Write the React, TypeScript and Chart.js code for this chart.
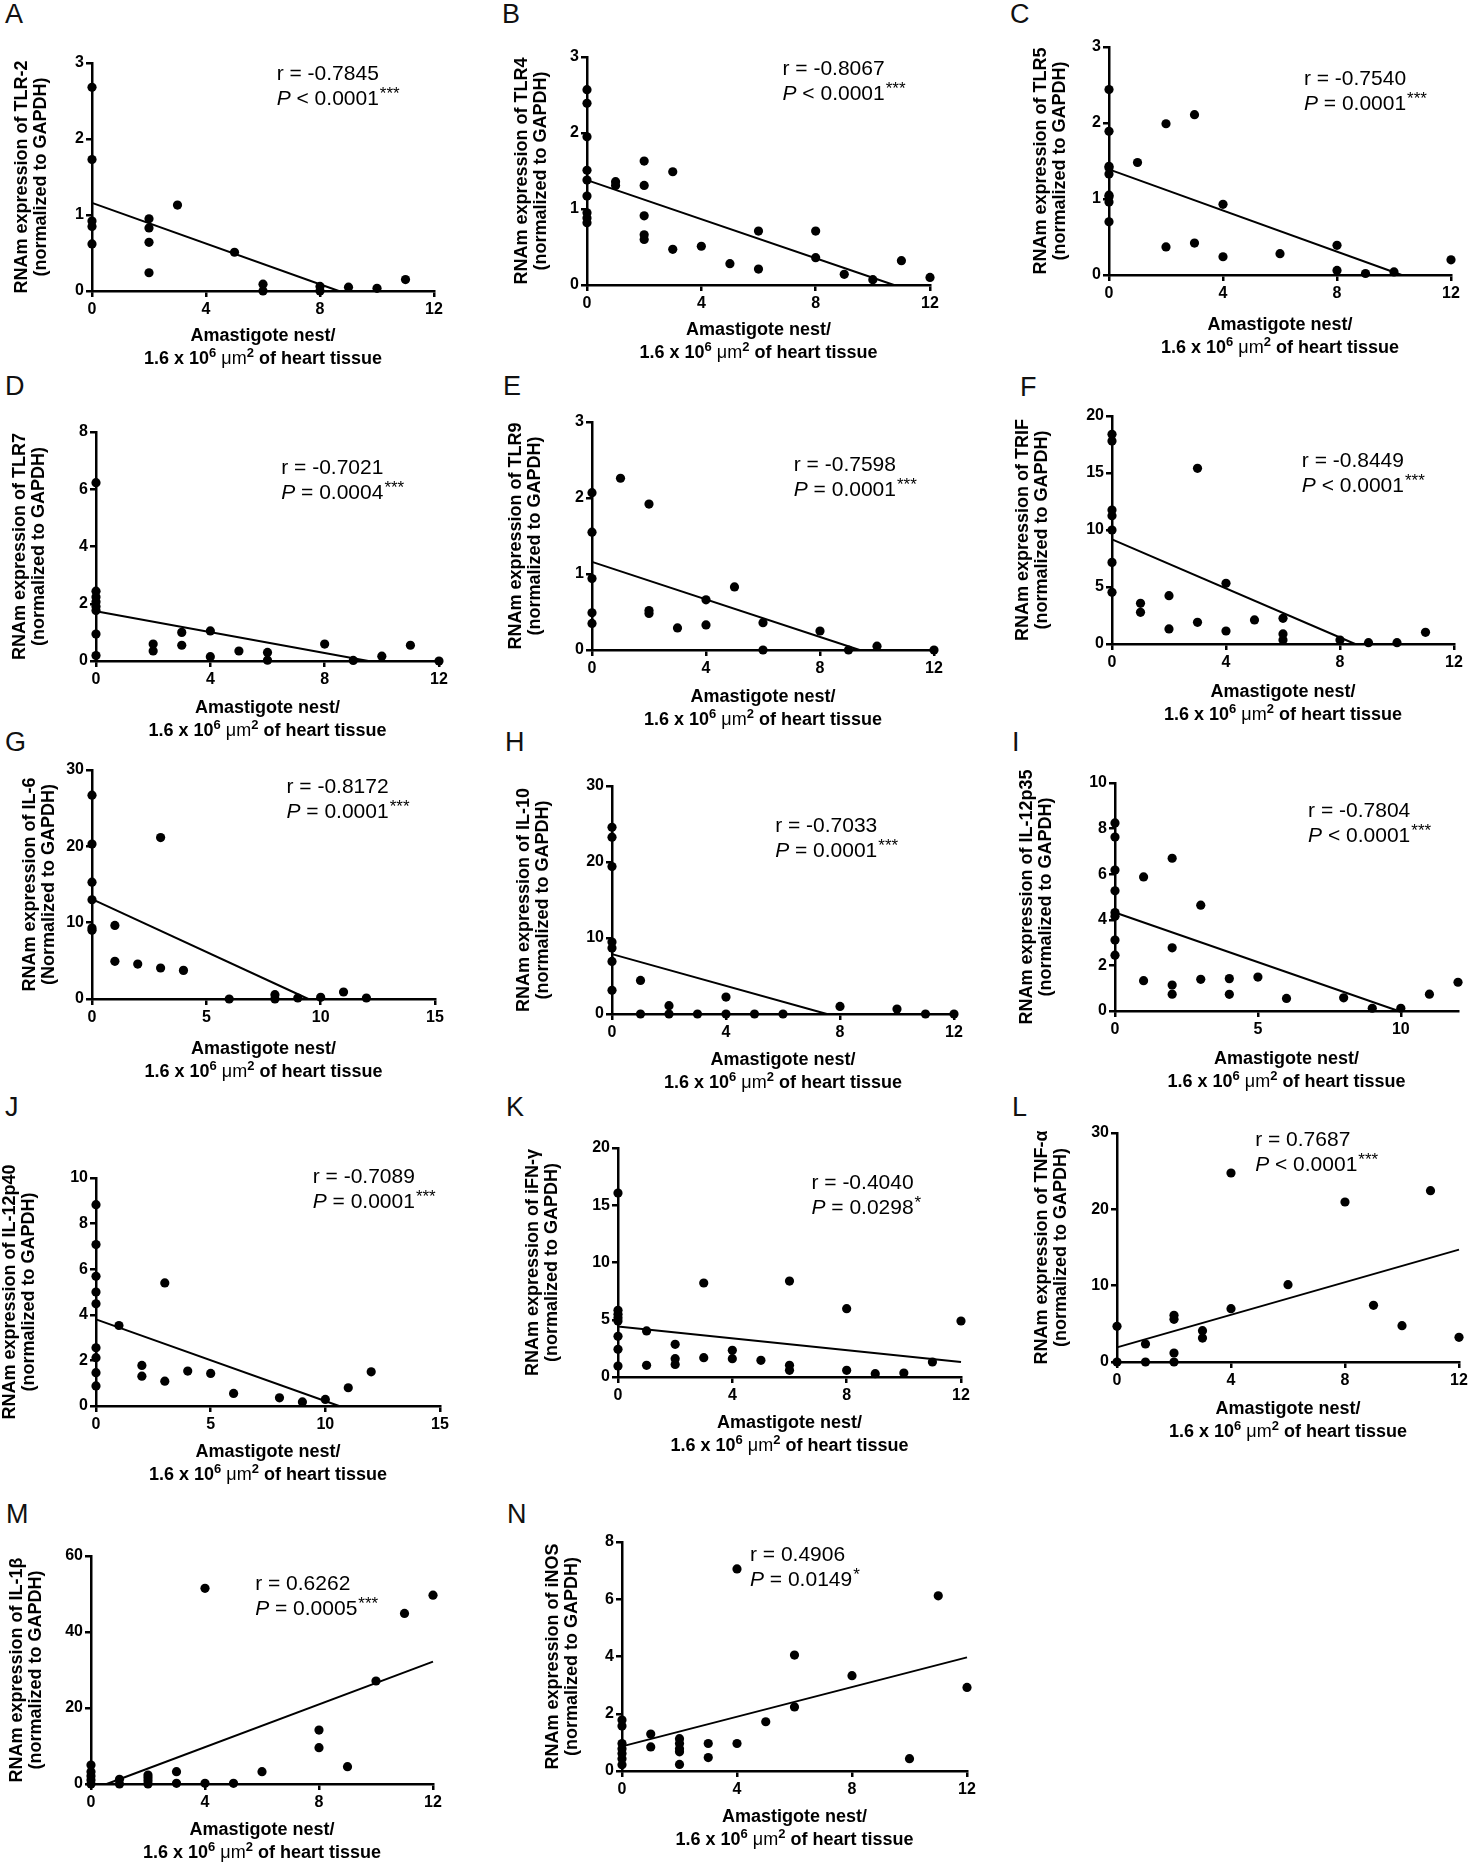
import { useEffect, useRef } from 'react'
import { Chart, registerables } from 'chart.js'

Chart.register(...registerables)

const FONT = '"Liberation Sans", Arial, sans-serif'

// layout of every canvas around its plot area
const WY = 100 // width of the y scale box
const PT = 45 // room above the plot
const PR = 30 // room right of the plot
const HX = 90 // height of the x scale box
const Y_LH = 19 // line height of the y titles

// A - TLR-2
const tlr2X = [0, 0, 0, 0, 0, 2, 2, 2, 2, 3, 5, 6, 6, 8, 8, 9, 10, 11]
const tlr2Y = [2.68, 1.73, 0.92, 0.85, 0.62, 0.95, 0.83, 0.64, 0.24, 1.13, 0.51, 0.09, 0, 0.06, 0, 0.05, 0.035, 0.15]
const tlr2FitX = [0, 8.66]
const tlr2FitY = [1.16, 0]

// B - TLR4
const tlr4X = [0, 0, 0, 0, 0, 0, 0, 0, 0, 1, 1, 2, 2, 2, 2, 2, 3, 3, 4, 5, 6, 6, 8, 8, 9, 10, 11, 12]
const tlr4Y = [2.57, 2.39, 1.95, 1.51, 1.38, 1.17, 0.95, 0.88, 0.82, 1.36, 1.31, 1.63, 1.31, 0.91, 0.66, 0.6, 1.49, 0.47, 0.51, 0.28, 0.71, 0.21, 0.71, 0.36, 0.14, 0.07, 0.32, 0.1]
const tlr4FitX = [0, 10.74]
const tlr4FitY = [1.38, 0]

// C - TLR5
const tlr5X = [0, 0, 0, 0, 0, 0, 0, 0, 0, 1, 2, 2, 3, 3, 4, 4, 6, 8, 8, 9, 10, 12]
const tlr5Y = [2.44, 1.89, 1.43, 1.41, 1.33, 1.05, 1.03, 0.96, 0.7, 1.48, 1.99, 0.37, 2.11, 0.42, 0.93, 0.24, 0.28, 0.39, 0.06, 0.02, 0.04, 0.2]
const tlr5FitX = [0, 10.27]
const tlr5FitY = [1.39, 0]

// D - TLR7
const tlr7X = [0, 0, 0, 0, 0, 0, 0, 0, 2, 2, 3, 3, 4, 4, 5, 6, 6, 8, 9, 10, 11, 12]
const tlr7Y = [6.23, 2.44, 2.24, 2.07, 1.9, 1.76, 0.94, 0.19, 0.59, 0.35, 1.0, 0.55, 1.05, 0.15, 0.35, 0.3, 0.03, 0.59, 0.02, 0.17, 0.55, 0]
const tlr7FitX = [0, 9.53]
const tlr7FitY = [1.74, 0]

// E - TLR9
const tlr9X = [0, 0, 0, 0, 0, 1, 2, 2, 2, 3, 4, 4, 5, 6, 6, 8, 9, 10, 12]
const tlr9Y = [2.07, 1.55, 0.94, 0.49, 0.35, 2.26, 1.92, 0.52, 0.48, 0.29, 0.66, 0.33, 0.83, 0.36, 0, 0.25, 0, 0.05, 0]
const tlr9FitX = [0, 9.39]
const tlr9FitY = [1.16, 0]

// F - TRIF
const trifX = [0, 0, 0, 0, 0, 0, 0, 1, 1, 2, 2, 3, 3, 4, 4, 5, 6, 6, 6, 8, 9, 10, 11]
const trifY = [18.4, 17.8, 11.75, 11.26, 10.0, 7.16, 4.53, 3.57, 2.78, 4.24, 1.32, 15.41, 1.9, 5.32, 1.14, 2.11, 2.25, 0.88, 0.35, 0.35, 0.12, 0.12, 1.02]
const trifFitX = [0, 8.53]
const trifFitY = [9.18, 0]

// G - IL-6
const il6X = [0, 0, 0, 0, 0, 0, 1, 1, 2, 3, 3, 4, 6, 8, 8, 9, 10, 11, 12]
const il6Y = [26.7, 20.3, 15.3, 13.0, 9.3, 9.0, 9.64, 4.93, 4.58, 21.15, 4.06, 3.75, 0, 0.57, 0, 0.13, 0.22, 0.92, 0.13]
const il6FitX = [0, 9.46]
const il6FitY = [13.08, 0]

// H - IL-10
const il10X = [0, 0, 0, 0, 0, 0, 0, 1, 1, 2, 2, 3, 4, 4, 5, 6, 8, 10, 11, 12]
const il10Y = [24.57, 23.26, 19.4, 9.46, 8.67, 6.92, 3.11, 4.42, 0, 1.1, 0, 0, 2.23, 0, 0, 0, 1.0, 0.66, 0, 0]
const il10FitX = [0, 7.54]
const il10FitY = [7.88, 0]

// I - IL-12p35
const il12p35X = [0, 0, 0, 0, 0, 0, 0, 0, 1, 1, 2, 2, 2, 2, 3, 3, 4, 4, 5, 6, 8, 9, 10, 11, 12]
const il12p35Y = [8.25, 7.63, 6.18, 5.27, 4.32, 4.16, 3.11, 2.45, 5.88, 1.33, 6.7, 2.77, 1.14, 0.74, 4.64, 1.39, 1.42, 0.73, 1.49, 0.55, 0.58, 0.12, 0.12, 0.74, 1.26]
const il12p35FitX = [0, 9.92]
const il12p35FitY = [4.32, 0]

// J - IL-12p40
const il12p40X = [0, 0, 0, 0, 0, 0, 0, 0, 0, 1, 2, 2, 3, 3, 4, 5, 6, 8, 9, 10, 11, 12]
const il12p40Y = [8.83, 7.08, 5.69, 5.0, 4.48, 2.55, 2.12, 1.46, 0.88, 3.53, 1.78, 1.31, 5.4, 1.09, 1.53, 1.43, 0.55, 0.36, 0.18, 0.29, 0.8, 1.5]
const il12p40FitX = [0, 10.6]
const il12p40FitY = [3.8, 0]

// K - iFN-gamma
const ifngX = [0, 0, 0, 0, 0, 0, 0, 0, 1, 1, 2, 2, 2, 3, 3, 4, 4, 5, 6, 6, 6, 8, 8, 9, 10, 11, 12]
const ifngY = [16.07, 5.82, 5.47, 5.18, 4.89, 3.55, 2.42, 0.96, 4.02, 1.02, 2.85, 1.6, 1.1, 8.21, 1.69, 2.33, 1.6, 1.46, 8.38, 1.02, 0.58, 5.97, 0.58, 0.29, 0.35, 1.31, 4.89]
const ifngFitX = [0, 12]
const ifngFitY = [4.42, 1.31]

// L - TNF-alpha
const tnfX = [0, 0, 1, 1, 2, 2, 2, 2, 3, 3, 4, 4, 6, 8, 9, 10, 11, 12]
const tnfY = [4.67, 0, 2.36, 0, 6.11, 5.59, 1.18, 0, 4.1, 3.14, 24.76, 6.99, 10.13, 20.96, 7.42, 4.76, 22.45, 3.23]
const tnfFitX = [0, 12]
const tnfFitY = [1.92, 14.72]

// M - IL-1beta
const il1bX = [0, 0, 0, 0, 0, 1, 1, 2, 2, 2, 2, 3, 3, 4, 4, 5, 6, 8, 8, 9, 10, 11, 12]
const il1bY = [5.0, 3.25, 2.1, 1.05, 0, 1.23, 0, 2.37, 1.67, 0.88, 0, 3.25, 0.18, 51.5, 0.18, 0.18, 3.25, 14.2, 9.56, 4.56, 27.1, 44.9, 49.7]
const il1bFitX = [0.55, 12]
const il1bFitY = [0, 32.2]

// N - iNOS
const inosX = [0, 0, 0, 0, 0, 0, 0, 1, 1, 2, 2, 2, 2, 2, 3, 3, 4, 4, 5, 6, 6, 8, 10, 11, 12]
const inosY = [1.78, 1.57, 0.96, 0.78, 0.61, 0.43, 0.22, 1.29, 0.84, 1.13, 0.96, 0.78, 0.67, 0.23, 0.96, 0.47, 7.06, 0.96, 1.72, 4.05, 2.24, 3.33, 0.43, 6.12, 2.92]
const inosFitX = [0, 12]
const inosFitY = [0.86, 3.97]

const ticks12 = [0, 4, 8, 12]
const ticks15 = [0, 5, 10, 15]

interface Panel {
  letter: string
  letterAt: [number, number]
  yTitle: string[]
  xs: number[]
  ys: number[]
  fitX: number[]
  fitY: number[]
  xTicks: number[]
  xMax: number
  yTicks: number[]
  r: string
  p: string
  stars: string
  // plot area: left, top, width, height
  box: [number, number, number, number]
  note: [number, number]
  yGap: number
  xGap: number
}

const norm = '(normalized to GAPDH)'

const panels: Panel[] = [
  { letter: 'A', letterAt: [5, 5], yTitle: ['RNAm expression of TLR-2', norm], xs: tlr2X, ys: tlr2Y, fitX: tlr2FitX, fitY: tlr2FitY, xTicks: ticks12, xMax: 12, yTicks: [0, 1, 2, 3], r: '-0.7845', p: '< 0.0001', stars: '***', box: [92, 63, 342, 228], note: [0.54, 0.01], yGap: 70, xGap: 66 },
  { letter: 'B', letterAt: [502, 5], yTitle: ['RNAm expression of TLR4', norm], xs: tlr4X, ys: tlr4Y, fitX: tlr4FitX, fitY: tlr4FitY, xTicks: ticks12, xMax: 12, yTicks: [0, 1, 2, 3], r: '-0.8067', p: '< 0.0001', stars: '***', box: [587, 57, 343, 228], note: [0.57, 0.015], yGap: 65, xGap: 66 },
  { letter: 'C', letterAt: [1010, 5], yTitle: ['RNAm expression of TLR5', norm], xs: tlr5X, ys: tlr5Y, fitX: tlr5FitX, fitY: tlr5FitY, xTicks: ticks12, xMax: 12, yTicks: [0, 1, 2, 3], r: '-0.7540', p: '= 0.0001', stars: '***', box: [1109, 47, 342, 228], note: [0.57, 0.1], yGap: 68, xGap: 71 },
  { letter: 'D', letterAt: [5, 377], yTitle: ['RNAm expression of TLR7', norm], xs: tlr7X, ys: tlr7Y, fitX: tlr7FitX, fitY: tlr7FitY, xTicks: ticks12, xMax: 12, yTicks: [0, 2, 4, 6, 8], r: '-0.7021', p: '= 0.0004', stars: '***', box: [96, 432, 343, 229], note: [0.54, 0.12], yGap: 76, xGap: 68 },
  { letter: 'E', letterAt: [503, 377], yTitle: ['RNAm expression of TLR9', norm], xs: tlr9X, ys: tlr9Y, fitX: tlr9FitX, fitY: tlr9FitY, xTicks: ticks12, xMax: 12, yTicks: [0, 1, 2, 3], r: '-0.7598', p: '= 0.0001', stars: '***', box: [592, 422, 342, 228], note: [0.59, 0.15], yGap: 76, xGap: 68 },
  { letter: 'F', letterAt: [1020, 378], yTitle: ['RNAm expression of TRIF', norm], xs: trifX, ys: trifY, fitX: trifFitX, fitY: trifFitY, xTicks: ticks12, xMax: 12, yTicks: [0, 5, 10, 15, 20], r: '-0.8449', p: '< 0.0001', stars: '***', box: [1112, 416, 342, 228], note: [0.555, 0.157], yGap: 89, xGap: 69 },
  { letter: 'G', letterAt: [5, 733], yTitle: ['RNAm expression of IL-6', '(Normalized to GAPDH)'], xs: il6X, ys: il6Y, fitX: il6FitX, fitY: il6FitY, xTicks: ticks15, xMax: 15, yTicks: [0, 10, 20, 30], r: '-0.8172', p: '= 0.0001', stars: '***', box: [92, 770, 343, 229], note: [0.567, 0.036], yGap: 62, xGap: 71 },
  { letter: 'H', letterAt: [505, 733], yTitle: ['RNAm expression of IL-10', norm], xs: il10X, ys: il10Y, fitX: il10FitX, fitY: il10FitY, xTicks: ticks12, xMax: 12, yTicks: [0, 10, 20, 30], r: '-0.7033', p: '= 0.0001', stars: '***', box: [612, 786, 342, 228], note: [0.477, 0.134], yGap: 88, xGap: 67 },
  { letter: 'I', letterAt: [1012, 733], yTitle: ['RNAm expression of IL-12p35', norm], xs: il12p35X, ys: il12p35Y, fitX: il12p35FitX, fitY: il12p35FitY, xTicks: [0, 5, 10], xMax: 12, yTicks: [0, 2, 4, 6, 8, 10], r: '-0.7804', p: '< 0.0001', stars: '***', box: [1115, 783, 343, 228], note: [0.563, 0.083], yGap: 88, xGap: 69 },
  { letter: 'J', letterAt: [5, 1098], yTitle: ['RNAm expression of IL-12p40', norm], xs: il12p40X, ys: il12p40Y, fitX: il12p40FitX, fitY: il12p40FitY, xTicks: ticks15, xMax: 15, yTicks: [0, 2, 4, 6, 8, 10], r: '-0.7089', p: '= 0.0001', stars: '***', box: [96, 1178, 344, 228], note: [0.63, -0.044], yGap: 86, xGap: 67 },
  { letter: 'K', letterAt: [506, 1098], yTitle: ['RNAm expression of iFN-\u03b3', norm], xs: ifngX, ys: ifngY, fitX: ifngFitX, fitY: ifngFitY, xTicks: ticks12, xMax: 12, yTicks: [0, 5, 10, 15, 20], r: '-0.4040', p: '= 0.0298', stars: '*', box: [618, 1148, 343, 229], note: [0.564, 0.112], yGap: 85, xGap: 67 },
  { letter: 'L', letterAt: [1012, 1098], yTitle: ['RNAm expression of TNF-\u03b1', norm], xs: tnfX, ys: tnfY, fitX: tnfFitX, fitY: tnfFitY, xTicks: ticks12, xMax: 12, yTicks: [0, 10, 20, 30], r: '0.7687', p: '< 0.0001', stars: '***', box: [1117, 1133, 342, 229], note: [0.404, -0.007], yGap: 75, xGap: 68 },
  { letter: 'M', letterAt: [6, 1505], yTitle: ['RNAm expression of IL-1\u03b2', norm], xs: il1bX, ys: il1bY, fitX: il1bFitX, fitY: il1bFitY, xTicks: ticks12, xMax: 12, yTicks: [0, 20, 40, 60], r: '0.6262', p: '= 0.0005', stars: '***', box: [91, 1556, 342, 228], note: [0.48, 0.083], yGap: 74, xGap: 67 },
  { letter: 'N', letterAt: [507, 1505], yTitle: ['RNAm expression of iNOS', norm], xs: inosX, ys: inosY, fitX: inosFitX, fitY: inosFitY, xTicks: ticks12, xMax: 12, yTicks: [0, 2, 4, 6, 8], r: '0.4906', p: '= 0.0149', stars: '*', box: [622, 1542, 345, 229], note: [0.371, 0.019], yGap: 69, xGap: 67 },
]

// pieces of the two-line x title: text, font, baseline shift
type Run = [string, string, number]
const xTitleLine1: Run[] = [['Amastigote nest/', `bold 18px ${FONT}`, 0]]
const xTitleLine2: Run[] = [
  ['1.6 x 10', `bold 18px ${FONT}`, 0],
  ['6', `bold 13px ${FONT}`, -7],
  [' ', `bold 18px ${FONT}`, 0],
  ['\u03bcm', `18px ${FONT}`, 0],
  ['2', `bold 13px ${FONT}`, -7],
  [' of heart tissue', `bold 18px ${FONT}`, 0],
]

function drawRuns(ctx: CanvasRenderingContext2D, runs: Run[], cx: number, baseline: number) {
  let total = 0
  for (const [t, f] of runs) {
    ctx.font = f
    total += ctx.measureText(t).width
  }
  let x = cx - total / 2
  for (const [t, f, dy] of runs) {
    ctx.font = f
    ctx.fillText(t, x, baseline + dy)
    x += ctx.measureText(t).width
  }
}

// r / P read-out and the x title drawn for each panel
const notePlugin = {
  id: 'corrNote',
  afterDatasetsDraw(chart: any, _args: any, opts: any) {
    const { ctx, chartArea } = chart
    const x = chartArea.left + opts.fx * (chartArea.right - chartArea.left)
    const top = chartArea.top + opts.fy * (chartArea.bottom - chartArea.top)
    ctx.save()
    ctx.fillStyle = '#000'
    ctx.textAlign = 'left'
    ctx.textBaseline = 'alphabetic'
    const b1 = top + 15
    const b2 = b1 + 25
    ctx.font = `21px ${FONT}`
    ctx.fillText(`r = ${opts.r}`, x, b1)
    ctx.font = `italic 21px ${FONT}`
    ctx.fillText('P', x, b2)
    let cx = x + ctx.measureText('P').width
    ctx.font = `21px ${FONT}`
    const rest = ` ${opts.p}`
    ctx.fillText(rest, cx, b2)
    cx += ctx.measureText(rest).width
    ctx.font = `17px ${FONT}`
    ctx.fillText(opts.stars, cx + 1, b2 - 6)

    const mid = (chartArea.left + chartArea.right) / 2
    const base2 = chartArea.bottom + opts.xGap + 6.5
    drawRuns(ctx, xTitleLine1, mid, base2 - 23)
    drawRuns(ctx, xTitleLine2, mid, base2)
    ctx.restore()
  },
}

function ScatterPanel({ panel }: { panel: Panel }) {
  const chartRef = useRef<HTMLCanvasElement>(null)
  const [left, top, w, h] = panel.box
  const cw = WY + w + PR
  const ch = PT + h + HX

  useEffect(() => {
    if (!chartRef.current) return
    const ctx = chartRef.current.getContext('2d')
    if (!ctx) return

    const axisGrid = {
      drawOnChartArea: false,
      drawTicks: true,
      tickLength: 6,
      tickWidth: 2.5,
      tickColor: '#000',
      color: '#000',
      lineWidth: 2.5,
    }
    const tickFont = { family: FONT, size: 16, weight: 'bold' as const }

    const chart = new Chart(ctx, {
      type: 'scatter',
      data: {
        datasets: [
          {
            data: panel.xs.map((x, i) => ({ x, y: panel.ys[i] })),
            pointRadius: 4.6,
            pointHoverRadius: 4.6,
            pointBackgroundColor: '#000',
            pointBorderWidth: 0,
            clip: false,
          } as any,
          {
            data: panel.fitX.map((x, i) => ({ x, y: panel.fitY[i] })),
            showLine: true,
            pointRadius: 0,
            borderColor: '#000',
            borderWidth: 2,
            fill: false,
            clip: false,
          } as any,
        ],
      },
      options: {
        animation: false,
        responsive: false,
        devicePixelRatio: 1,
        layout: { padding: { top: PT, right: PR, left: 0, bottom: 0 } },
        plugins: {
          legend: { display: false },
          tooltip: { enabled: false },
          corrNote: {
            r: panel.r,
            p: panel.p,
            stars: panel.stars,
            fx: panel.note[0],
            fy: panel.note[1],
            xGap: panel.xGap,
          },
        } as any,
        scales: {
          x: {
            type: 'linear',
            min: 0,
            max: panel.xMax,
            afterBuildTicks: (axis: any) => {
              axis.ticks = panel.xTicks.map((value) => ({ value }))
            },
            afterFit: (axis: any) => {
              axis.height = HX
            },
            border: { display: true, color: '#000', width: 2.5 },
            grid: axisGrid,
            ticks: { color: '#000', font: tickFont, padding: 3, maxRotation: 0, autoSkip: false },
          },
          y: {
            type: 'linear',
            min: 0,
            max: panel.yTicks[panel.yTicks.length - 1],
            afterBuildTicks: (axis: any) => {
              axis.ticks = panel.yTicks.map((value) => ({ value }))
            },
            afterFit: (axis: any) => {
              axis.width = WY
            },
            border: { display: true, color: '#000', width: 2.5 },
            grid: axisGrid,
            ticks: { color: '#000', font: tickFont, padding: 2 },
            title: {
              display: true,
              text: panel.yTitle,
              color: '#000',
              font: { family: FONT, size: 18, weight: 'bold', lineHeight: `${Y_LH}px` },
              padding: { top: WY - panel.yGap - Y_LH / 2, bottom: 0 },
            },
          },
        },
      },
      plugins: [notePlugin],
    })

    return () => {
      chart.destroy()
    }
  }, [panel])

  return (
    <canvas
      ref={chartRef}
      width={cw}
      height={ch}
      style={{ position: 'absolute', left: left - WY, top: top - PT, width: cw, height: ch }}
    ></canvas>
  )
}

export default function App() {
  return (
    <div
      style={{
        position: 'absolute',
        left: 0,
        top: 0,
        width: 1469,
        height: 1862,
        background: '#fff',
        overflow: 'hidden',
      }}
    >
      {panels.map((p) => (
        <div
          key={p.letter + '-label'}
          style={{
            position: 'absolute',
            left: p.letterAt[0],
            top: p.letterAt[1] - 4,
            fontFamily: FONT,
            fontSize: 27,
            lineHeight: 1,
            color: '#111',
          }}
        >
          {p.letter}
        </div>
      ))}
      {panels.map((p) => (
        <ScatterPanel key={p.letter} panel={p} />
      ))}
    </div>
  )
}
